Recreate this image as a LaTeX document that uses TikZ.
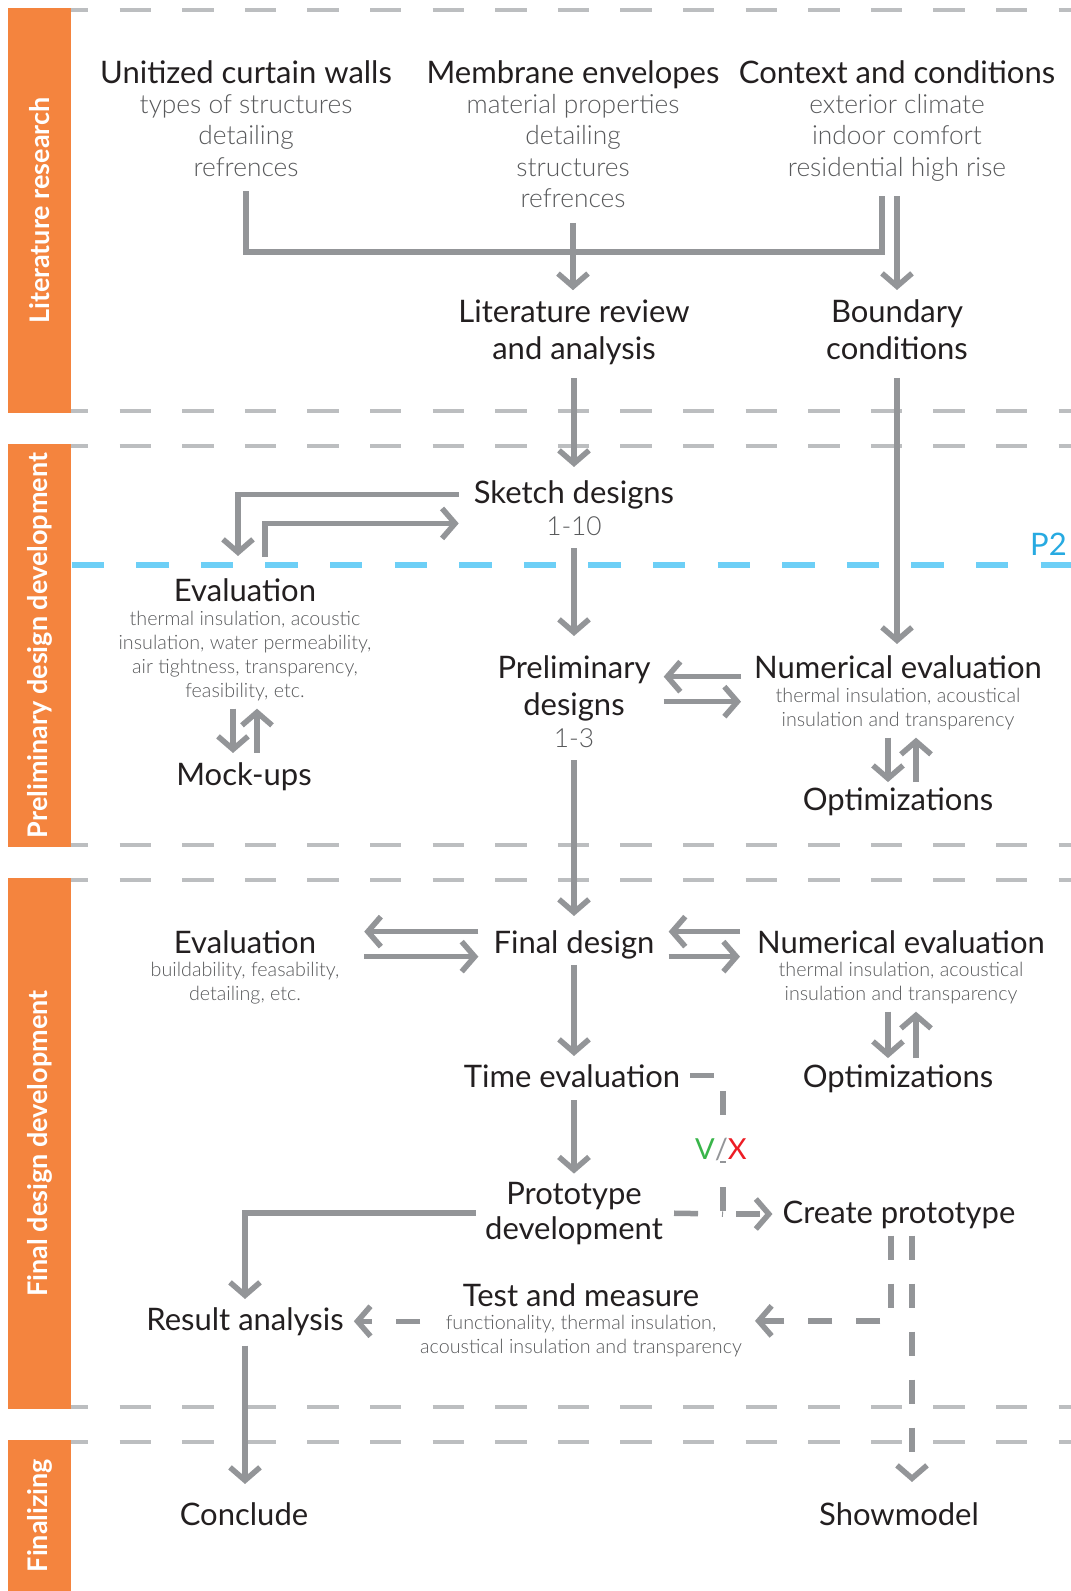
\documentclass[tikz,border=0pt]{standalone}
\usepackage{fontspec}
\setmainfont{Lato}
\newfontfamily\lightfont{Lato Light}
\usepackage{tikz}
\usetikzlibrary{arrows.meta}
\usetikzlibrary{calc}
\definecolor{barorange}{HTML}{F4843E}
\definecolor{flowgray}{HTML}{939598}
\definecolor{rulegray}{HTML}{BCBEC0}
\definecolor{milestone}{HTML}{6DCFF6}
\definecolor{milestonetext}{HTML}{27AAE1}
\definecolor{ink}{HTML}{231F20}
\definecolor{subink}{HTML}{58595B}
\definecolor{yes}{HTML}{39B54A}
\definecolor{no}{HTML}{ED1C24}
\tikzset{>={Straight Barb[length=13pt,width=30pt]}}
\tikzset{
    ttl/.style={inner sep=0pt, anchor=base, text=ink, align=center, font=\fontsize{31}{37.5}\selectfont},
    sub/.style={inner sep=0pt, anchor=base, text=subink, align=center, font=\lightfont\fontsize{26.3}{31.5}\selectfont},
    note/.style={inner sep=0pt, anchor=base, text=subink, align=center, font=\lightfont\fontsize{19.7}{24}\selectfont},
    phasebar/.style={fill=barorange},
    phasetext/.style={text=white, rotate=90, font=\bfseries\fontsize{27}{30}\selectfont},
    phaserule/.style={rulegray, line width=4pt, dash pattern=on 31.3pt off 31.3pt, dash phase=14pt},
    link/.style={flowgray, line width=5.5pt, shorten <=13pt, shorten >=13pt},
    trial/.style={link, dash pattern=on 24pt off 24pt}
}

\begin{document}
\begin{tikzpicture}[x=1pt, y=-1pt]
                \useasboundingbox (0,0) rectangle (1071,1591);
                \fill[phasebar] (8,8) rectangle (71,413);
                \fill[phasebar] (8,444) rectangle (71,847);
                \fill[phasebar] (8,878) rectangle (71,1409);
                \fill[phasebar] (8,1440) rectangle (71,1591);
                \node[phasetext] (litphase) at (39.5,210.5) {Literature research};
                \node[phasetext] (prephase) at (39.5,645.5) {Preliminary design development};
                \node[phasetext] (finphase) at (39.5,1143.5) {Final design development};
                \node[phasetext] (endphase) at (39.5,1515.5) {Finalizing};
                \foreach \y in {10,411,446,845,880,1407,1442}
                    \draw[phaserule] (71,\y) -- (1071,\y);
                \draw[milestone, line width=5.5pt, dash pattern=on 32.3pt off 32.3pt] (71.6,565) -- (1071,565);
                \node[ttl, text=milestonetext, anchor=base east] (ptwo) at (1067,555) {P2};

                \node[ttl] (unitized) at (246,83) {Unitized curtain walls};
                \node[sub] (unitsub) at (246,176) {types of structures\\detailing\\refrences};
                \node[ttl] (membrane) at (573,83) {Membrane envelopes};
                \node[sub] (memsub) at (573,207.5) {material properties\\detailing\\structures\\refrences};
                \node[ttl] (context) at (897,83) {Context and conditions};
                \node[sub] (ctxsub) at (897,176) {exterior climate\\indoor comfort\\residential high rise};
                \node[ttl] (litreview) at (574,359.5) {Literature review\\and analysis};
                \node[ttl] (boundary) at (897,359.5) {Boundary\\conditions};
                \node[ttl] (sketch) at (574,503) {Sketch designs};
                \node[sub] (sketchnum) at (574,535) {1-10};
                \node[ttl] (evalA) at (245,601) {Evaluation};
                \node[note] (evalAsub) at (245,697) {thermal insulation, acoustic\\insulation, water permeability,\\air tightness, transparency,\\feasibility, etc.};
                \node[ttl] (mockups) at (244,785) {Mock-ups};
                \node[ttl] (prelim) at (574,715.5) {Preliminary\\designs};
                \node[sub] (prelimnum) at (574,747) {1-3};
                \node[ttl] (numA) at (898,678) {Numerical evaluation};
                \node[note] (numAsub) at (898,726) {thermal insulation, acoustical\\insulation and transparency};
                \node[ttl] (optA) at (898,810) {Optimizations};
                \node[ttl] (final) at (574,953) {Final design};
                \node[ttl] (evalB) at (245,953) {Evaluation};
                \node[note] (evalBsub) at (245,1000) {buildability, feasability,\\detailing, etc.};
                \node[ttl] (numB) at (901,953) {Numerical evaluation};
                \node[note] (numBsub) at (901,1000) {thermal insulation, acoustical\\insulation and transparency};
                \node[ttl] (optB) at (898,1087) {Optimizations};
                \node[ttl] (timeeval) at (572,1087) {Time evaluation};
                \node[ttl, font=\fontsize{31}{35}\selectfont] (proto) at (574,1239) {Prototype\\development};
                \node[ttl] (create) at (899,1223) {Create prototype};
                \node[ttl] (result) at (245,1330) {Result analysis};
                \node[ttl] (test) at (581,1306) {Test and measure};
                \node[note] (testsub) at (581,1353) {functionality, thermal insulation,\\acoustical insulation and transparency};
                \node[ttl] (conclude) at (244,1525) {Conclude};
                \node[ttl] (showmodel) at (899,1525) {Showmodel};
                \coordinate (topjoin) at (574,252);
                \coordinate (split) at (723,1214);

                \draw[link, shorten <=15pt, shorten >=15pt] (unitsub.south) |- (topjoin) -| ([xshift=-15pt]ctxsub.south);
                \draw[link, ->, shorten <=15pt, shorten >=9pt] (memsub.south) -- (memsub.south |- litreview.north);
                \draw[link, ->, shorten <=15pt, shorten >=9pt] (ctxsub.south) -- (ctxsub.south |- boundary.north);
                \draw[link, ->] (litreview.south) -- (sketch.north);
                \draw[link, ->, shorten <=18pt, shorten >=11pt] (boundary.south) -- (boundary.south |- numA.north);
                \draw[link, ->, shorten <=15pt, shorten >=22pt] (sketch.west) -| ([xshift=-7pt]evalA.north);
                \draw[link, ->, shorten <=21pt, shorten >=15pt] ([xshift=20pt]evalA.north) |- ($(sketch.west)+(0,29)$);
                \draw[link, ->, shorten >=19pt] (sketchnum.south) -- (prelim.north);
                \draw[link, ->, shorten <=8pt, shorten >=9pt] ([xshift=-12pt]evalAsub.south) -- ([xshift=-12pt]evalAsub.south |- mockups.north);
                \draw[link, ->, shorten <=9pt, shorten >=8pt] ([xshift=12pt]evalAsub.south |- mockups.north) -- ([xshift=12pt]evalAsub.south);
                \draw[link, ->] ($(prelim.east -| numA.west)+(0,-11.5)$) -- ($(prelim.east)+(0,-11.5)$);
                \draw[link, ->] ($(prelim.east)+(0,13.5)$) -- ($(prelim.east -| numA.west)+(0,13.5)$);
                \draw[link, ->, shorten <=8pt, shorten >=5pt] ($(numAsub.south)+(-10,0)$) -- ($(numAsub.south |- optA.north)+(-10,0)$);
                \draw[link, ->, shorten <=5pt, shorten >=8pt] ($(numAsub.south |- optA.north)+(18,0)$) -- ($(numAsub.south)+(18,0)$);
                \draw[link, ->, shorten >=14pt] (prelimnum.south) -- (final.north);
                \draw[link, ->, shorten <=15pt, shorten >=48pt] ($(final.west)+(0,-12.8)$) -- ($(final.west -| evalB.east)+(0,-12.8)$);
                \draw[link, ->, shorten <=48pt, shorten >=15pt] ($(final.west -| evalB.east)+(0,12.2)$) -- ($(final.west)+(0,12.2)$);
                \draw[link, ->, shorten <=17pt, shorten >=14pt] ($(final.east -| numB.west)+(0,-12.8)$) -- ($(final.east)+(0,-12.8)$);
                \draw[link, ->, shorten <=14pt, shorten >=17pt] ($(final.east)+(0,12.2)$) -- ($(final.east -| numB.west)+(0,12.2)$);
                \draw[link, ->, shorten <=8pt, shorten >=6pt] ($(numBsub.south)+(-13,0)$) -- ($(numBsub.south |- optB.north)+(-13,0)$);
                \draw[link, ->, shorten <=6pt, shorten >=8pt] ($(numBsub.south |- optB.north)+(15,0)$) -- ($(numBsub.south)+(15,0)$);
                \draw[link, ->, shorten <=6pt, shorten >=8pt] (final.south) -- (final.south |- timeeval.north);
                \draw[link, ->, shorten >=8pt] (proto.north |- timeeval.south) -- (proto.north);
                \draw[link, ->, shorten <=9pt, shorten >=8pt] (proto.west) -| (result.north);
                \draw[trial, shorten <=10pt, shorten >=0pt] (timeeval.east) -| (split);
                \draw[trial, shorten <=11pt, shorten >=0pt] (proto.east) -- (split);
                \draw[trial, ->, shorten >=10pt] (split) -- (split -| create.west);
                \node[ttl, anchor=center, fill=white, inner sep=1pt, font=\fontsize{29}{30}\selectfont] (verdict) at (721,1149) {\textcolor{yes}{V}\textcolor{flowgray}{/}\textcolor{no}{X}};
                \draw[trial, ->, shorten <=7pt] ($(create.south)+(-8,0)$) |- ($(testsub.east)+(0,-14.7)$);
                \draw[trial, ->, shorten <=7pt, shorten >=20pt] ($(create.south)+(13,0)$) -- ($(create.south |- showmodel.north)+(13,0)$);
                \draw[trial, ->, shorten <=0pt, shorten >=10pt] (testsub.west |- result.east) -- (result.east);
                \draw[link, ->, shorten <=10pt, shorten >=18pt] (result.south) -- (result.south |- conclude.north);
            \end{tikzpicture}
\end{document}
